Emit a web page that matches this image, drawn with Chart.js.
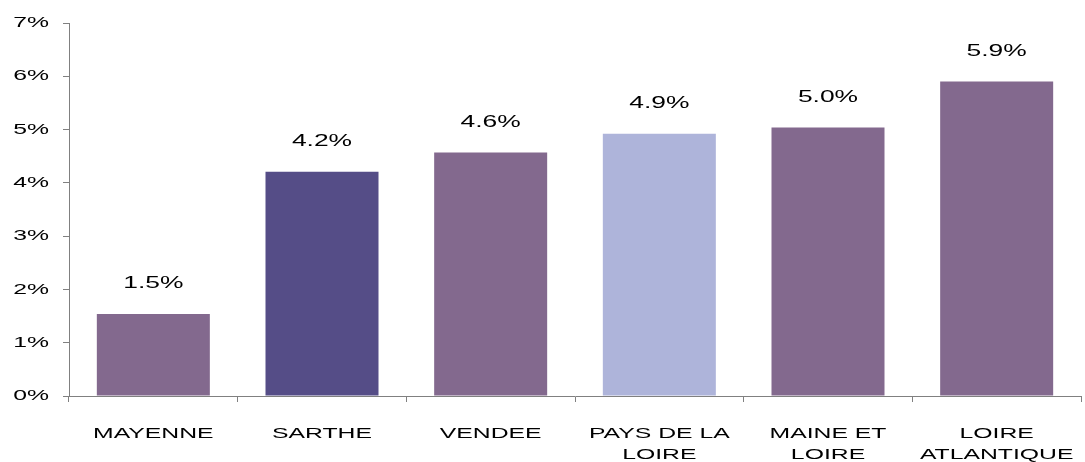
<!DOCTYPE html>
<html>
<head>
<meta charset="utf-8">
<script src="https://cdn.jsdelivr.net/npm/chart.js@4/dist/chart.umd.min.js"></script>
<style>
  html, body { margin: 0; padding: 0; background: #fff; }
  #wrap { width: 1085px; height: 462px; }
</style>
</head>
<body>
<div id="wrap"><canvas id="myChart" width="1085" height="462"></canvas></div>
<script>
// Data
const departments = [['MAYENNE'], ['SARTHE'], ['VENDEE'], ['PAYS DE LA', 'LOIRE'], ['MAINE ET', 'LOIRE'], ['LOIRE', 'ATLANTIQUE']];
const shares = [1.54, 4.21, 4.57, 4.92, 5.04, 5.90];
const shareLabels = ['1.5%', '4.2%', '4.6%', '4.9%', '5.0%', '5.9%'];
const barColors = ['#83698e', '#554d87', '#83698e', '#aeb4da', '#83698e', '#83698e'];
const yTicks = [0, 1, 2, 3, 4, 5, 6, 7];

const FONT = '"Liberation Sans", Arial, sans-serif';
const STRETCH = 1.65; // the original text is drawn wide

const canvas = document.getElementById('myChart');
const ctx = canvas.getContext('2d');

// Stretch every piece of text horizontally around its anchor point
const origFillText = ctx.fillText.bind(ctx);
ctx.fillText = function(text, x, y, maxWidth) {
    ctx.save();
    ctx.translate(x, y);
    ctx.scale(STRETCH, 1);
    if (maxWidth === undefined) origFillText(text, 0, 0);
    else origFillText(text, 0, 0, maxWidth / STRETCH);
    ctx.restore();
};

// Value labels above the bars
const valueLabels = {
    id: 'valueLabels',
    afterDatasetsDraw(chart) {
        const c = chart.ctx;
        const meta = chart.getDatasetMeta(0);
        c.save();
        c.font = '16px ' + FONT;
        c.fillStyle = '#000';
        c.textAlign = 'center';
        c.textBaseline = 'middle';
        meta.data.forEach((bar, i) => {
            c.fillText(shareLabels[i], bar.x, bar.y - 30);
        });
        c.restore();
    }
};

new Chart(ctx, {
    type: 'bar',
    data: {
        labels: departments,
        datasets: [{
            data: shares,
            backgroundColor: barColors,
            borderWidth: 0,
            barPercentage: 0.67,
            categoryPercentage: 1
        }]
    },
    options: {
        responsive: false,
        animation: false,
        layout: { padding: { top: 22, right: 4, left: 0, bottom: 0 } },
        plugins: {
            legend: { display: false },
            tooltip: { enabled: false }
        },
        scales: {
            x: {
                grid: {
                    offset: true,
                    drawOnChartArea: false,
                    tickLength: 6,
                    color: '#808080'
                },
                border: { color: '#808080' },
                ticks: {
                    color: '#000',
                    font: { family: FONT, size: 15, lineHeight: 1.35 },
                    padding: 22,
                    maxRotation: 0,
                    autoSkip: false
                },
                afterFit(scale) { scale.height = 66; }
            },
            y: {
                min: 0,
                max: 7,
                afterBuildTicks(scale) {
                    scale.ticks = yTicks.map(v => ({ value: v }));
                },
                grid: {
                    drawOnChartArea: false,
                    tickLength: 6,
                    color: '#808080'
                },
                border: { color: '#808080' },
                ticks: {
                    color: '#000',
                    font: { family: FONT, size: 15 },
                    padding: 14,
                    callback: v => v + '%'
                },
                afterFit(scale) { scale.width = 69; }
            }
        }
    },
    plugins: [valueLabels]
});
</script>
</body>
</html>
